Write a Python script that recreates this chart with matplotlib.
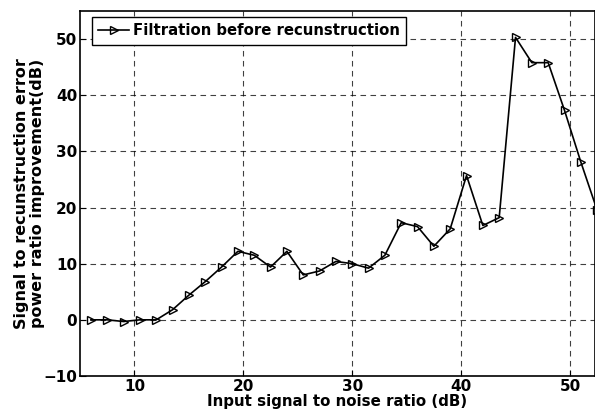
import numpy as np
import matplotlib
matplotlib.use("Agg")
import matplotlib.pyplot as plt

snr_in = [6, 7.5, 9, 10.5, 12, 13.5, 15, 16.5, 18, 19.5, 21, 22.5, 24, 25.5,
          27, 28.5, 30, 31.5, 33, 34.5, 36, 37.5, 39, 40.5, 42, 43.5, 45,
          46.5, 48, 49.5, 51, 52.5]
improvement = [0, 0, -0.3, 0, 0, 1.8, 4.4, 6.8, 9.4, 12.2, 11.5, 9.4, 12.2,
               8.0, 8.7, 10.4, 10.0, 9.2, 11.5, 17.3, 16.6, 13.1, 16.2, 25.7,
               16.8, 18.2, 50.3, 45.8, 45.8, 37.3, 28.1, 19.5]

plt.rcParams['font.family'] = 'DejaVu Sans'
plt.rcParams['font.weight'] = 'bold'

fig = plt.figure(figsize=(5.95, 4.2), dpi=100)
ax = fig.add_axes([0.1345, 0.1048, 0.8655, 0.869])

ax.plot(snr_in, improvement, color='black', linewidth=1.2, marker='>',
        markersize=5.5, markerfacecolor='none', markeredgecolor='black',
        markeredgewidth=1.0, label='Filtration before recunstruction')

ax.set_xlim(5, 52.3)
ax.set_ylim(-10, 55)
ax.set_xticks([10, 20, 30, 40, 50])
ax.set_yticks([-10, 0, 10, 20, 30, 40, 50])
ax.tick_params(direction='in', labelsize=11, length=4, pad=2)
for lbl in ax.get_xticklabels() + ax.get_yticklabels():
    lbl.set_fontweight('bold')

ax.grid(True, color='black', linestyle=(0, (5, 4)), linewidth=0.8, alpha=0.75)

ax.set_xlabel('Input signal to noise ratio (dB)', fontsize=10.8, fontweight='bold',
              labelpad=0)
ax.set_ylabel('Signal to recunstruction error\npower ratio improvement(dB)',
              fontsize=11.5, fontweight='bold', linespacing=1.05)
ax.yaxis.set_label_coords(-0.068, 0.5)

leg = ax.legend(loc='upper left', bbox_to_anchor=(0.0227, 0.983),
                fontsize=10.7, frameon=True, fancybox=False, numpoints=1,
                borderpad=0.42, handlelength=2.1, handletextpad=0.25,
                borderaxespad=0, framealpha=1)
leg.get_frame().set_edgecolor('black')
leg.get_frame().set_linewidth(1.0)
for t in leg.get_texts():
    t.set_fontweight('bold')

for s in ax.spines.values():
    s.set_linewidth(1.2)

fig.savefig('out.png', dpi=100)
